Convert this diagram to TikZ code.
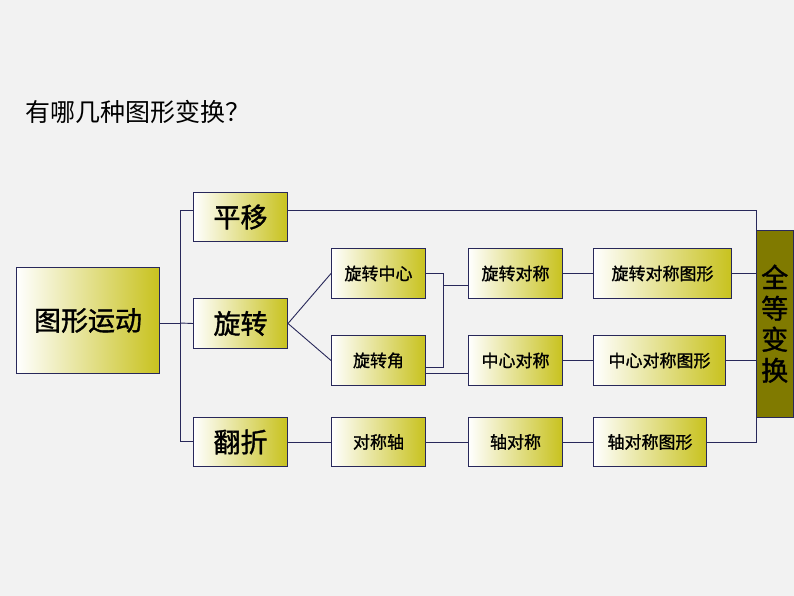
\documentclass[tikz,border=0pt]{standalone}
\usepackage{fontspec}
\newfontfamily\cjk{Noto Sans CJK SC}
\newfontfamily\cjkb[FakeBold=1.3]{Noto Sans CJK SC}
\definecolor{bgray}{RGB}{242,242,242}
\definecolor{olivey}{RGB}{200,194,30}
\definecolor{olived}{RGB}{128,122,0}
\definecolor{lineblue}{RGB}{40,40,90}
\tikzset{
  box/.style = {draw = lineblue, line width = 1pt, left color = white, right color = olivey,
    anchor = north west, inner sep = 0pt, font = \cjkb\fontsize{17}{20}\selectfont},
  bigbox/.style = {box, font = \cjkb\fontsize{27}{30}\selectfont},
  link/.style = {draw = lineblue, line width = 0.9pt}
}
\begin{document}
\begin{tikzpicture}[x = 1pt, y = -1pt]

\fill [bgray] (0, 0) rectangle (794, 596);
\useasboundingbox (0, 0) rectangle (794, 596);

\node [anchor = west, font = \cjk\fontsize{25}{28}\selectfont] (title) at (22, 112) {有哪几种图形变换？};

% left column
\node [bigbox, minimum width = 143pt, minimum height = 106pt] (motion) at (16, 267) {图形运动};
\node [bigbox, minimum width = 94pt, minimum height = 49pt] (shift) at (193, 192) {平移};
\node [bigbox, minimum width = 94pt, minimum height = 50pt] (rotate) at (193, 298) {旋转};
\node [bigbox, minimum width = 94pt, minimum height = 49pt] (fold) at (193, 417) {翻折};

% middle columns
\node [box, minimum width = 94pt, minimum height = 50pt] (centre) at (331, 248) {旋转中心};
\node [box, minimum width = 94pt, minimum height = 50pt] (angle) at (331, 335) {旋转角};
\node [box, minimum width = 94pt, minimum height = 49pt] (axis) at (331, 417) {对称轴};
\node [box, minimum width = 94pt, minimum height = 50pt] (rotsym) at (468, 248) {旋转对称};
\node [box, minimum width = 94pt, minimum height = 50pt] (censym) at (468, 335) {中心对称};
\node [box, minimum width = 94pt, minimum height = 49pt] (axsym) at (468, 417) {轴对称};
\node [box, minimum width = 138pt, minimum height = 50pt] (rotfig) at (593, 248) {旋转对称图形};
\node [box, minimum width = 132pt, minimum height = 50pt] (cenfig) at (593, 335) {中心对称图形};
\node [box, minimum width = 113pt, minimum height = 49pt] (axfig) at (593, 417) {轴对称图形};

\node [draw = lineblue, fill = olived, anchor = north west, minimum width = 37pt, minimum height = 187pt,
  inner sep = 0pt, align = center, font = \cjkb\fontsize{27}{31}\selectfont] (congr) at (756, 230) {全\\等\\变\\换};

% connectors
\coordinate (trunk) at (180, 323);
\draw [link] (motion.east |- trunk) -- (trunk);
\draw [link] (shift.west |- 0, 210) -| (180, 441) -- (fold.west |- 0, 441);
\draw [link] (trunk) -- (rotate.west);
\draw [link] (rotate.east) -- (centre.west);
\draw [link] (rotate.east) -- (angle.west);
\draw [link] (centre.east) -| (443, 367) -- (angle.east |- 0, 367);
\draw [link] (443, 285) -- (rotsym.west |- 0, 285);
\draw [link] (angle.east |- 0, 373) -- (censym.west |- 0, 373);
\draw [link] (axis.east) -- (axsym.west);
\draw [link] (fold.east) -- (axis.west);
\draw [link] (rotsym.east) -- (rotfig.west);
\draw [link] (censym.east) -- (cenfig.west);
\draw [link] (axsym.east) -- (axfig.west);
\draw [link] (shift.east |- 0, 210) -| (congr.north west);
\draw [link] (axfig.east) -| (congr.south west);
\draw [link] (rotfig.east) -- (rotfig.east -| congr.west);
\draw [link] (cenfig.east) -- (cenfig.east -| congr.west);

\end{tikzpicture}
\end{document}
